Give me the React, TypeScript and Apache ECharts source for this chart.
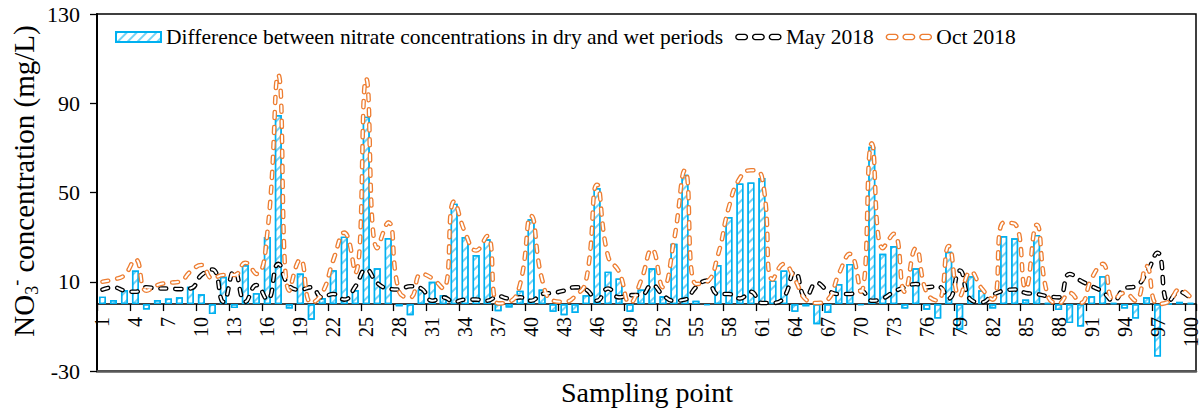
import React, { useEffect, useRef } from "react";
import * as echarts from "echarts";

const categories: string[] = Array.from({ length: 100 }, (_, i) => String(i + 1));
// every third sampling point carries a label: 1, 4, 7, ... 100
const labelledIndices: number[] = categories.map((_, i) => i).filter((i) => i % 3 === 0);

// Difference between nitrate concentrations in dry and wet periods (mg/L)
const diffValues: number[] = [
  3.3, 1.8, 6.3, 15, -2.4, 1.8, 2.5, 3, 7.8, 4.4,
  -4.5, 12.2, -1.8, 17.5, 4.9, 30, 84.7, -2, 13.7, -7,
  2.7, 15.2, 30.2, 6.3, 84, 16, 29.6, -1, -5, 6.5,
  10, 4, 45, 30, 22, 29, -3.2, -1.5, 6, 38,
  6.5, -3.5, -5, -4, 4, 52, 14.5, 11.5, -3.5, 6.5,
  16, 3.5, 27, 58, 1.5, -0.5, 17.5, 39, 54, 54.5,
  56.5, 10.5, 15, -3.5, -1, -9, -4, 9, 18, -0.5,
  70.5, 22.5, 26, -2, 16, -2.5, -6.5, 23.4, -11.5, 12.5,
  6.2, -2, 30.5, 29.5, 2, 31, 0.5, -2.7, -8.5, -10,
  3.5, 12.5, 0.5, -2, -6.5, 3, -23.5, 0, 1, 0.5,
];

// May 2018
const may2018: number[] = [
  6.5, 7.5, 6, 5.5, 7.5, 7, 7, 6.7, 7, 13,
  15.5, 1, 15, 1, 8.5, 2, 18, 8, 6.5, 7.5,
  3, 4.5, 2, 7.8, 15.5, 9.4, 7, 6.5, 8, 7,
  1.5, 3, 1, 2, 2, 1.5, 3.5, 2.5, 3, 1.5,
  4.5, 5, 6, 7.5, 6.5, 1.5, 7, 3, 4, 4,
  8.5, 4, 1.5, 2, 7.5, 10.5, 4.5, 4.5, 2.5, 5.5,
  0.5, 0.5, 3, 14.5, 3, 9.5, 6, 4.5, 4.5, 6,
  1.5, 2.5, 5.5, 7.5, 9, 7.5, 8, 2.5, 15, 2,
  0.8, 4, 6, 6.5, 5, 4.5, 3.5, 3, 13.5, 10.5,
  8, 5.5, 1.5, 7, 8, 14, 23, 1, 5.5, 2.5,
];

// Oct 2018
const oct2018: number[] = [
  10, 11, 13, 20, 6, 8.5, 9.5, 10, 14.5, 17.5,
  11.5, 13, 13, 18.5, 13.5, 32, 102.7, 6, 20, 0.5,
  5, 19.7, 32, 14, 101, 25, 36.6, 5.5, 3, 13.5,
  11.5, 7, 46, 32, 24, 30.5, 0.3, 1, 9, 39.5,
  11, 1.5, 1, 3.5, 10.5, 53.5, 21.5, 14.5, 0.5, 10.5,
  24.5, 7.5, 28.5, 60, 9, 10, 22, 43.5, 56.5, 60,
  57, 11, 18, 11, 2, 0.5, 2, 13.5, 22.5, 5.5,
  72, 25, 31.5, 5.5, 25, 5, 1.5, 26, 3.5, 14.5,
  7, 2, 36.5, 36, 7, 35.5, 4, 0.3, 5, 0.5,
  11.5, 18, 2, 5, 1.5, 17, 0, 1, 6.5, 3,
];

const yTicks: number[] = [-30, 10, 50, 90, 130];
const yMin = -30;
const yMax = 130;

const seriesNames = {
  diff: "Difference between nitrate concentrations in dry and wet periods",
  may: "May 2018",
  oct: "Oct 2018",
};

const FONT = "Liberation Serif";
const BLUE = "#00B0F0";
const ORANGE = "#ED7D31";
const DASH = [6, 9];

const GRID = { left: 97, right: 6, top: 14, bottom: 41 };
const CHART_H = 412;

const capsuleIcon =
  "path://" +
  "M3.5,0 L9.5,0 A2.5,2.5 0 0 1 9.5,5 L3.5,5 A2.5,2.5 0 0 1 3.5,0 Z " +
  "M19.5,0 L25.5,0 A2.5,2.5 0 0 1 25.5,5 L19.5,5 A2.5,2.5 0 0 1 19.5,0 Z " +
  "M35.5,0 L41.5,0 A2.5,2.5 0 0 1 41.5,5 L35.5,5 A2.5,2.5 0 0 1 35.5,0 Z";

export default function App() {
  const ref = useRef<HTMLDivElement>(null);

  useEffect(() => {
    if (!ref.current) return;
    const chart = echarts.init(ref.current, undefined, { renderer: "svg" });

    // distance from the grid bottom up to the value 0, to put the category axis on zero
    const plotH = CHART_H - GRID.top - GRID.bottom;
    const zeroOffset = (plotH * (0 - yMin)) / (yMax - yMin);

    const lineSeries = (name: string, data: number[], color: string, inner: boolean) => ({
      name,
      type: "line",
      data,
      smooth: true,
      symbol: "none",
      showSymbol: false,
      silent: true,
      z: inner ? 4 : 3,
      lineStyle: inner
        ? { color: "#ffffff", width: 2, type: DASH, cap: "round" }
        : { color, width: 4.6, type: DASH, cap: "round" },
      itemStyle: { color },
    });

    const option: any = {
      animation: false,
      grid: {
        ...GRID,
        show: true,
        borderColor: "#000",
        borderWidth: 1.5,
        backgroundColor: "transparent",
      },
      legend: {
        left: 115,
        top: 26,
        padding: 0,
        itemWidth: 45,
        itemHeight: 10,
        itemGap: 12,
        symbolKeepAspect: true,
        selectedMode: false,
        textStyle: { fontFamily: FONT, fontSize: 21.5, color: "#000" },
        data: [
          { name: seriesNames.diff, icon: "rect" },
          {
            name: seriesNames.may,
            icon: capsuleIcon,
            itemStyle: { color: "#fff", borderColor: "#000", borderWidth: 1.4 },
          },
          {
            name: seriesNames.oct,
            icon: capsuleIcon,
            itemStyle: { color: "#fff", borderColor: ORANGE, borderWidth: 1.4 },
          },
        ],
      },
      xAxis: [
        {
          type: "category",
          data: categories,
          boundaryGap: true,
          position: "bottom",
          offset: -zeroOffset,
          axisLine: { onZero: false, lineStyle: { color: "#000", width: 1.5 } },
          axisTick: { show: true, interval: 2, length: 7, lineStyle: { color: "#000", width: 1.3 } },
          axisLabel: { show: false },
          splitLine: { show: false },
        },
        {
          type: "category",
          data: categories,
          position: "bottom",
          offset: 0,
          axisLine: { onZero: false, lineStyle: { color: "#595959", width: 2.5 } },
          axisTick: { show: false },
          axisLabel: { show: false },
          splitLine: { show: false },
        },
      ],
      yAxis: {
        type: "value",
        min: yMin,
        max: yMax,
        axisLine: { show: true, onZero: false, lineStyle: { color: "#000", width: 2 } },
        axisTick: {
          show: true,
          inside: false,
          length: 7,
          customValues: yTicks,
          lineStyle: { color: "#000", width: 1.3 },
        },
        axisLabel: { show: false },
        splitLine: { show: false },
      },
      graphic: [
        {
          type: "text",
          x: 647,
          y: 392,
          style: {
            text: "Sampling point",
            fontFamily: FONT,
            fontSize: 28,
            fill: "#000",
            align: "center",
            verticalAlign: "middle",
          },
        },
        {
          type: "text",
          x: 24,
          y: 181,
          rotation: Math.PI / 2,
          style: {
            text: "{a|NO}{s|3}{p|-}{a| concentration (mg/L)}",
            fill: "#000",
            align: "center",
            verticalAlign: "middle",
            rich: {
              a: { fontFamily: FONT, fontSize: 29, lineHeight: 34, verticalAlign: "middle" },
              s: { fontFamily: FONT, fontSize: 18, lineHeight: 18, verticalAlign: "bottom", padding: [14, 0, 0, 0] },
              p: { fontFamily: FONT, fontSize: 18, lineHeight: 18, verticalAlign: "top", padding: [0, 0, 10, 0] },
            },
          },
        },
      ],
      series: [
        {
          name: seriesNames.diff,
          type: "bar",
          data: diffValues,
          barWidth: 7,
          silent: true,
          z: 2,
          itemStyle: {
            color: "#ffffff",
            borderColor: BLUE,
            borderWidth: 1.4,
            decal: {
              symbol: "rect",
              symbolSize: 1,
              color: "rgba(0,176,240,0.55)",
              dashArrayX: [1, 0],
              dashArrayY: [1.2, 5],
              rotation: -Math.PI / 4,
            },
          },
        },
        lineSeries(seriesNames.may, may2018, "#000000", false),
        lineSeries(seriesNames.may + " ", may2018, "#000000", true),
        lineSeries(seriesNames.oct, oct2018, ORANGE, false),
        lineSeries(seriesNames.oct + " ", oct2018, ORANGE, true),
        {
          // rotated category labels on the zero line
          name: "sampling-point-labels",
          type: "custom",
          silent: true,
          clip: false,
          z: 10,
          data: labelledIndices.map((i) => [i, 0]),
          encode: { x: 0, y: 1 },
          renderItem: (params: any, api: any) => {
            const idx = api.value(0);
            const p = api.coord([idx, 0]);
            return {
              type: "text",
              x: p[0],
              y: p[1] + 13,
              rotation: Math.PI / 2,
              style: {
                text: categories[idx],
                fontFamily: FONT,
                fontSize: 20,
                fill: "#000",
                align: "right",
                verticalAlign: "middle",
              },
            };
          },
        },
        {
          // value-axis tick labels
          name: "value-labels",
          type: "custom",
          silent: true,
          clip: false,
          z: 10,
          data: yTicks.map((v) => [0, v]),
          encode: { x: 0, y: 1 },
          renderItem: (params: any, api: any) => {
            const v = api.value(1);
            const p = api.coord([0, v]);
            return {
              type: "text",
              x: params.coordSys.x - 17,
              y: p[1],
              style: {
                text: String(v),
                fontFamily: FONT,
                fontSize: 22,
                fill: "#000",
                align: "right",
                verticalAlign: "middle",
              },
            };
          },
        },
      ],
    };

    chart.setOption(option);
    return () => chart.dispose();
  }, []);

  return (
    <div
      ref={ref}
      style={{ position: "fixed", left: 0, top: 0, width: 1202, height: 412, background: "#fff" }}
    />
  );
}
